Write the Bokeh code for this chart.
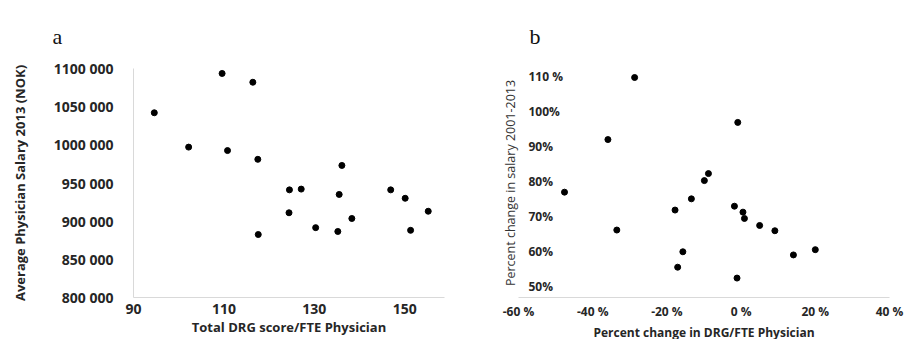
from bokeh.plotting import figure
from bokeh.layouts import row
from bokeh.models import FixedTicker, ColumnDataSource, Title
from bokeh.core.properties import value
from bokeh.embed import file_html
from bokeh.resources import INLINE

# ---------------- Panel a data ----------------
drg_score = [94.6, 102.2, 109.6, 110.8, 116.4, 117.5, 117.6, 124.5, 124.4, 127.1,
             130.3, 135.2, 135.5, 136.1, 138.3, 146.9, 150.1, 151.3, 155.2]
salary_2013 = [1042000, 997000, 1093500, 992500, 1082000, 981000, 882500, 941000, 911000, 942000,
               891500, 886500, 935000, 973000, 903500, 941000, 930000, 888000, 913000]
a_x_ticks = [90, 110, 130, 150]
a_y_ticks = [800000, 850000, 900000, 950000, 1000000, 1050000, 1100000]
a_y_labels = ["800 000", "850 000", "900 000", "950 000", "1000 000", "1050 000", "1100 000"]

# ---------------- Panel b data ----------------
drg_change = [-28.7, -0.9, -35.9, -8.8, -9.9, -47.6, -13.4, -17.8, -1.8, 0.5,
              0.9, -33.5, 5.0, 9.1, -15.7, 20.0, 14.1, -17.1, -1.1]
salary_change = [109.7, 96.9, 92.0, 82.3, 80.3, 77.0, 75.1, 71.9, 73.0, 71.3,
                 69.5, 66.2, 67.5, 66.0, 60.0, 60.6, 59.1, 55.6, 52.5]
b_x_ticks = [-60, -40, -20, 0, 20, 40]
b_x_labels = ["-60 %", "-40 %", "-20 %", "0 %", "20 %", "40 %"]
b_y_ticks = [50, 60, 70, 80, 90, 100, 110]
b_y_labels = ["50%", "60%", "70%", "80%", "90%", "100%", "110 %"]

AXIS_GREY = "#d9d9d9"
TXT = "#262626"
FONT = "Open Sans"


def base_style(p):
    p.xgrid.visible = False
    p.ygrid.visible = False
    p.outline_line_color = None
    for ax in (p.xaxis[0], p.yaxis[0]):
        ax.major_tick_line_color = None
        ax.minor_tick_line_color = None
        ax.major_tick_out = 0
        ax.major_tick_in = 0
        ax.minor_tick_out = 0
        ax.minor_tick_in = 0
        ax.major_label_text_font = FONT
        ax.major_label_text_font_style = "bold"
        ax.major_label_text_color = TXT
        ax.axis_label_text_font = FONT
        ax.axis_label_text_color = TXT
    p.title.text_font = "Liberation Serif"
    p.title.text_font_style = "normal"
    p.title.text_font_size = "22px"
    p.title.text_color = "#111111"
    p.title.align = "left"
    p.title.standoff = 40


def x_title(p, text, size):
    p.add_layout(Title(text=text, align="center", text_font=FONT, text_font_size=size,
                       text_font_style="bold", text_color=TXT, standoff=-2), "below")


# ---------------- Panel a ----------------
a_x_range = (90, 158.8)
a_y_range = (800000, 1100000)
p1 = figure(width=490, height=339, x_range=a_x_range, y_range=a_y_range,
            output_backend="svg", toolbar_location=None, title="a",
            min_border_left=133, min_border_right=46, min_border_top=68, min_border_bottom=30)
base_style(p1)
p1.title.offset = -81
p1.scatter(drg_score, salary_2013, size=6, color="black")

p1.xaxis.ticker = FixedTicker(ticks=a_x_ticks)
p1.xaxis.axis_line_color = AXIS_GREY
p1.xaxis.major_label_text_font_size = "14px"
p1.xaxis.major_label_standoff = 6
x_title(p1, "Total DRG score/FTE Physician", "13px")

p1.yaxis.ticker = FixedTicker(ticks=a_y_ticks)
p1.yaxis.major_label_overrides = dict(zip(a_y_ticks, a_y_labels))
p1.yaxis.axis_line_color = AXIS_GREY
p1.yaxis.major_label_text_font_size = "14px"
p1.yaxis.major_label_standoff = 20
p1.yaxis.axis_label = "Average Physician Salary 2013 (NOK)"
p1.yaxis.axis_label_text_font_size = "13px"
p1.yaxis.axis_label_text_font_style = "bold"
p1.yaxis.axis_label_standoff = 22

# ---------------- Panel b ----------------
b_x_range = (-60, 40)
b_y_range = (46.96, 112.27)
p2 = figure(width=414, height=339, x_range=b_x_range, y_range=b_y_range,
            output_backend="svg", toolbar_location=None, title="b",
            min_border_left=28, min_border_right=15, min_border_top=68, min_border_bottom=30)
base_style(p2)
p2.title.offset = 11
p2.scatter(drg_change, salary_change, size=6, color="black")

p2.xaxis.ticker = FixedTicker(ticks=b_x_ticks)
p2.xaxis.major_label_overrides = dict(zip(b_x_ticks, b_x_labels))
p2.xaxis.axis_line_color = AXIS_GREY
p2.xaxis.major_label_text_font_size = "12px"
p2.xaxis.major_label_standoff = 5
x_title(p2, "Percent change in DRG/FTE Physician", "12px")

# y axis: only its title; the tick labels sit inside the plot, left-aligned
p2.yaxis.ticker = FixedTicker(ticks=[])
p2.yaxis.axis_line_color = None
p2.yaxis.major_label_standoff = 0
p2.yaxis.axis_label = "Percent change in salary 2001-2013"
p2.yaxis.axis_label_text_font_size = "12.5px"
p2.yaxis.axis_label_text_font_style = "normal"
p2.yaxis.axis_label_text_color = "#333333"
p2.yaxis.axis_label_standoff = 0

ylab_src = ColumnDataSource(dict(x=[b_x_range[0]] * len(b_y_ticks), y=b_y_ticks, t=b_y_labels))
p2.text(x="x", y="y", text="t", source=ylab_src, x_offset=10,
        text_font=value(FONT), text_font_style="bold", text_font_size="12px",
        text_color=TXT, text_align="left", text_baseline="middle")

layout = row(p1, p2)
with open("out.html", "w") as f:
    f.write(file_html(layout, INLINE))
